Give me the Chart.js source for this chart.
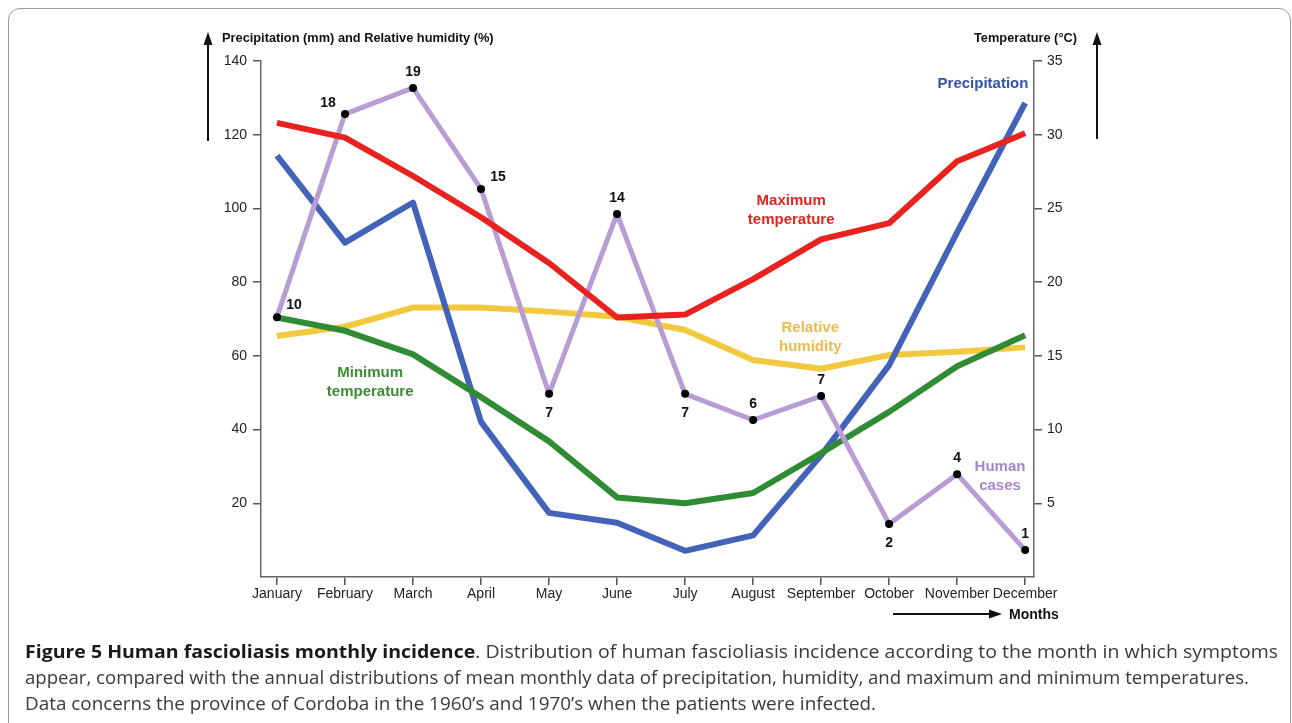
<!DOCTYPE html>
<html>
<head>
<meta charset="utf-8">
<script src="https://cdn.jsdelivr.net/npm/chart.js@4"></script>
<style>
  body { margin: 0; background: #fff; width: 1292px; height: 723px; overflow: hidden; position: relative; }
  #frame { position: absolute; left: 8px; top: 8px; width: 1281px; height: 740px; border: 1px solid #9a9a9a; border-radius: 12px; }
  #wrap { position: absolute; left: 0; top: 0; }
  #caption { position: absolute; left: 25px; top: 638px; font-family: "Open Sans", sans-serif; font-size: 18px; line-height: 26px; color: #3a3a3a; }
  #caption div { white-space: nowrap; transform-origin: left center; display: inline-block; }
  #caption b { color: #1a1a1a; }
</style>
</head>
<body>
<div id="frame"></div>
<div id="wrap"><canvas id="fasciolaChart" width="1292" height="640"></canvas></div>
<div id="caption">
  <div data-w="1253"><b>Figure 5 Human fascioliasis monthly incidence</b>. Distribution of human fascioliasis incidence according to the month in which symptoms</div><br>
  <div data-w="1224">appear, compared with the annual distributions of mean monthly data of precipitation, humidity, and maximum and minimum temperatures.</div><br>
  <div data-w="851">Data concerns the province of Cordoba in the 1960’s and 1970’s when the patients were infected.</div>
</div>
<script>
const months = ["January", "February", "March", "April", "May", "June", "July", "August", "September", "October", "November", "December"];

// left axis: precipitation (mm) and relative humidity (%)
const precipitation = [114.3, 90.7, 101.6, 42.1, 17.4, 14.7, 7.1, 11.3, 33.0, 57.5, 93.5, 128.6];
const humidity = [65.4, 67.9, 73.1, 73.1, 72.0, 70.6, 67.0, 58.9, 56.5, 60.2, 61.1, 62.3];

// right axis: temperature (°C)
const maxTemp = [30.8, 29.8, 27.2, 24.4, 21.3, 17.6, 17.8, 20.2, 22.9, 24.0, 28.2, 30.1];
const minTemp = [17.6, 16.7, 15.1, 12.2, 9.2, 5.4, 5.0, 5.7, 8.4, 11.2, 14.3, 16.4];

// human cases: counts and the schematic height of the curve (left axis units)
const humanCases = [10, 18, 19, 15, 7, 14, 7, 6, 7, 2, 4, 1];
const casesCurve = [70.5, 125.6, 132.7, 105.3, 49.7, 98.5, 49.7, 42.6, 49.1, 14.4, 27.9, 7.3];
const caseLabelSide = ["upright", "upleft", "above", "upright", "below", "above", "below", "above", "above", "below", "above", "above"];

const leftTicks = [20, 40, 60, 80, 100, 120, 140];
const rightTicks = [5, 10, 15, 20, 25, 30, 35];

// in-chart series names, anchored in (month index, left axis value)
const seriesNotes = [
    { text: ["Precipitation"], x: 10.38, y: 133.8, color: "#3453ab" },
    { text: ["Maximum", "temperature"], x: 7.56, y: 99.5, color: "#e1261f" },
    { text: ["Relative", "humidity"], x: 7.84, y: 65.1, color: "#e9bb4d" },
    { text: ["Minimum", "temperature"], x: 1.37, y: 52.8, color: "#3d8b32" },
    { text: ["Human", "cases"], x: 10.63, y: 27.3, color: "#a884ca" },
];

const xy = (arr) => arr.map((v, i) => ({ x: i, y: v }));
const FONT = "'Liberation Sans', Arial, sans-serif";

const caseLabels = {
    id: "caseLabels",
    afterDatasetsDraw(chart) {
        const ctx = chart.ctx;
        const meta = chart.getDatasetMeta(1);
        const offs = { upright: [17, -12], upleft: [-17, -11], above: [0, -16], below: [0, 19] };
        ctx.save();
        ctx.font = "bold 14px " + FONT;
        ctx.fillStyle = "#111";
        ctx.textAlign = "center";
        ctx.textBaseline = "middle";
        meta.data.forEach((pt, i) => {
            const o = offs[caseLabelSide[i]];
            ctx.fillText(String(humanCases[i]), pt.x + o[0], pt.y + o[1]);
        });
        // series names
        const sx = chart.scales.x, sy = chart.scales.y;
        ctx.font = "bold 15px " + FONT;
        seriesNotes.forEach((n) => {
            ctx.fillStyle = n.color;
            const cx = sx.getPixelForValue(n.x);
            const cy = sy.getPixelForValue(n.y);
            const top = cy - ((n.text.length - 1) * 19) / 2;
            n.text.forEach((t, k) => ctx.fillText(t, cx, top + k * 19));
        });
        ctx.restore();
    },
};

const decorations = {
    id: "decorations",
    afterDraw(chart) {
        const ctx = chart.ctx;
        ctx.save();
        ctx.strokeStyle = "#111";
        ctx.fillStyle = "#111";
        ctx.lineWidth = 2;
        const upArrow = (x, y0, y1) => {
            ctx.beginPath();
            ctx.moveTo(x, y0);
            ctx.lineTo(x, y1 + 10);
            ctx.stroke();
            ctx.beginPath();
            ctx.moveTo(x, y1);
            ctx.lineTo(x - 4.5, y1 + 13);
            ctx.lineTo(x + 4.5, y1 + 13);
            ctx.closePath();
            ctx.fill();
        };
        upArrow(208, 141, 32);
        upArrow(1097, 139, 32);
        // months arrow
        ctx.beginPath();
        ctx.moveTo(893, 614);
        ctx.lineTo(990, 614);
        ctx.stroke();
        ctx.beginPath();
        ctx.moveTo(1002, 614);
        ctx.lineTo(989, 609.5);
        ctx.lineTo(989, 618.5);
        ctx.closePath();
        ctx.fill();

        ctx.textBaseline = "middle";
        ctx.font = "bold 12.8px " + FONT;
        ctx.textAlign = "left";
        ctx.fillText("Precipitation (mm) and Relative humidity (%)", 222, 38);
        ctx.textAlign = "right";
        ctx.fillText("Temperature (°C)", 1077, 38);
        ctx.font = "bold 14px " + FONT;
        ctx.textAlign = "left";
        ctx.fillText("Months", 1009, 615);
        ctx.restore();
    },
};

const gridOpts = { drawOnChartArea: false, drawTicks: true, tickLength: 8, color: "#555", lineWidth: 1.5 };
const borderOpts = { display: true, color: "#666", width: 1.5 };
const tickFont = { family: FONT, size: 14 };

new Chart(document.getElementById("fasciolaChart").getContext("2d"), {
    type: "line",
    data: {
        datasets: [
            { label: "Maximum temperature", data: xy(maxTemp), yAxisID: "yT", borderColor: "#e8231f", order: 0 },
            {
                label: "Human cases", data: xy(casesCurve), yAxisID: "y", borderColor: "#b99cd4", borderWidth: 5, order: 1,
                pointRadius: 4, pointBackgroundColor: "#000", pointBorderWidth: 0,
            },
            { label: "Minimum temperature", data: xy(minTemp), yAxisID: "yT", borderColor: "#2f8c34", order: 2 },
            { label: "Precipitation", data: xy(precipitation), yAxisID: "y", borderColor: "#4263b8", order: 3 },
            { label: "Relative humidity", data: xy(humidity), yAxisID: "y", borderColor: "#f2c83e", order: 4 },
        ],
    },
    options: {
        responsive: false,
        animation: false,
        layout: { padding: { top: 61, left: 0, right: 0, bottom: 0 } },
        elements: {
            line: { borderWidth: 6, tension: 0, borderCapStyle: "butt", borderJoinStyle: "round", fill: false },
            point: { radius: 0 },
        },
        plugins: { legend: { display: false }, tooltip: { enabled: false } },
        scales: {
            x: {
                type: "linear",
                min: -0.235,
                max: 11.13,
                afterBuildTicks: (s) => { s.ticks = months.map((m, i) => ({ value: i })); },
                afterFit: (s) => { s.height = 63; },
                ticks: { callback: (v) => months[v], font: tickFont, color: "#222", padding: 1, maxRotation: 0, autoSkip: false },
                grid: gridOpts,
                border: borderOpts,
            },
            y: {
                position: "left",
                min: 0,
                max: 140,
                afterBuildTicks: (s) => { s.ticks = leftTicks.map((v) => ({ value: v })); },
                afterFit: (s) => { s.width = 261; },
                ticks: { font: tickFont, color: "#222", padding: 6 },
                grid: gridOpts,
                border: borderOpts,
            },
            yT: {
                position: "right",
                min: 0,
                max: 35,
                afterBuildTicks: (s) => { s.ticks = rightTicks.map((v) => ({ value: v })); },
                afterFit: (s) => { s.width = 258; },
                ticks: { font: tickFont, color: "#222", padding: 5 },
                grid: gridOpts,
                border: borderOpts,
            },
        },
    },
    plugins: [caseLabels, decorations],
});

// fit caption lines to the widths in the figure
document.querySelectorAll("#caption div").forEach((d) => {
    const w = d.getBoundingClientRect().width;
    d.style.transform = "scaleX(" + (Number(d.dataset.w) / w) + ")";
});
</script>
</body>
</html>
